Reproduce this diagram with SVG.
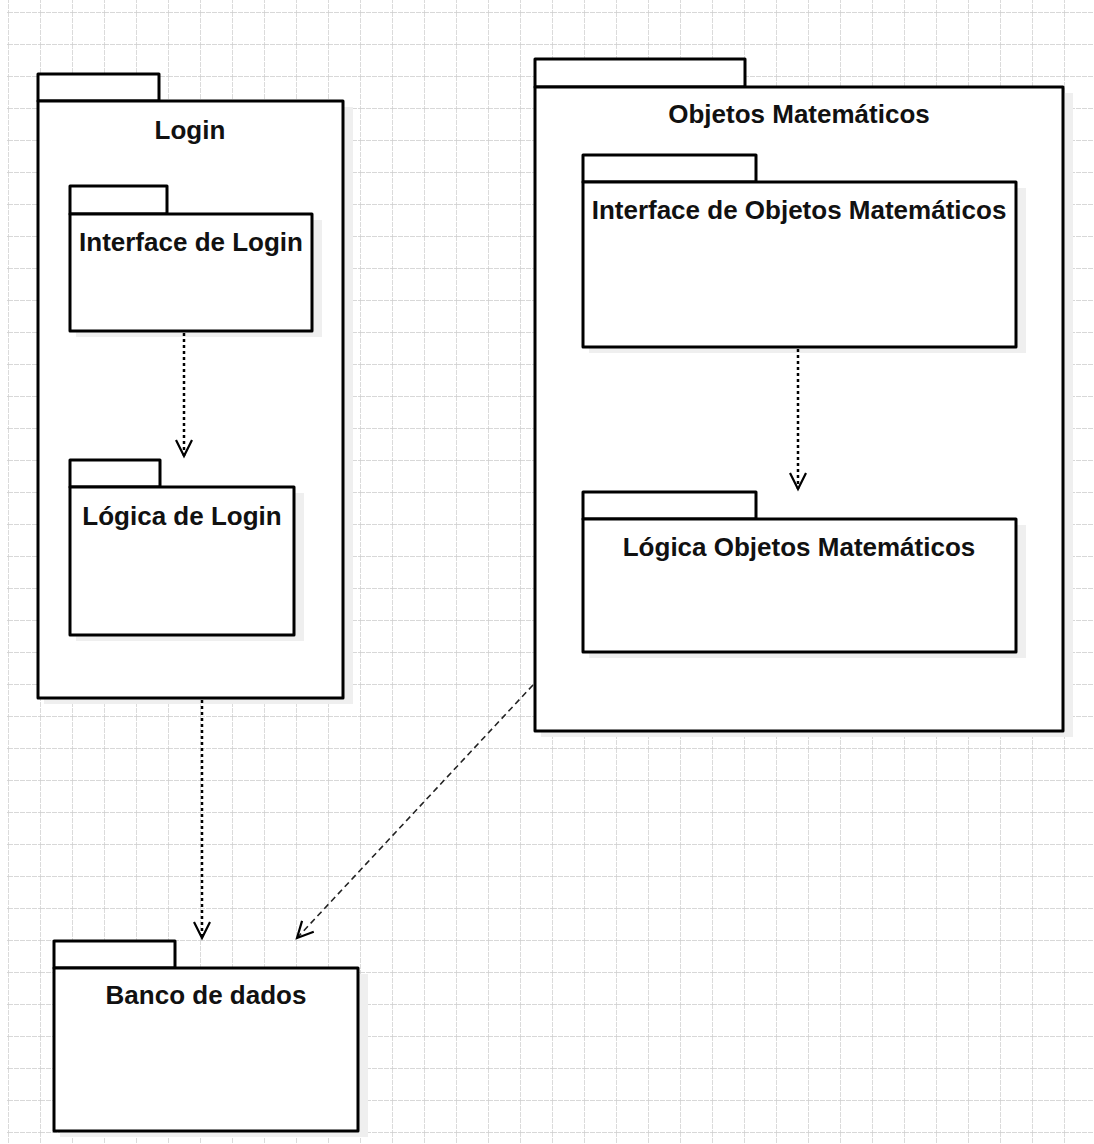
<svg xmlns="http://www.w3.org/2000/svg" width="1094" height="1144" viewBox="0 0 1094 1144">
<defs>
<style>
.tab,.body{fill:#ffffff;stroke:#000000;stroke-width:3;stroke-linejoin:round}
.shadow{fill:#efefef}
.lbl{font-family:"Liberation Sans",Arial,sans-serif;font-weight:bold;font-size:26px;fill:#111111;text-anchor:middle}
.dep{fill:none;stroke:#000000;stroke-width:2.5;stroke-dasharray:3 3}
.dep2{fill:none;stroke:#222222;stroke-width:1.6;stroke-dasharray:6 4}
</style>
<pattern id="grid" patternUnits="userSpaceOnUse" x="8" y="12" width="32" height="32">
<path d="M0,0 H32 M0,0 V32" fill="none" stroke="#cccccc" stroke-width="1.4" stroke-dasharray="5 1"/>
</pattern>
<marker id="open" markerUnits="userSpaceOnUse" viewBox="0 0 20 20" refX="17" refY="10" markerWidth="20" markerHeight="20" orient="auto">
<path d="M1,2 L17,10 L1,18" fill="none" stroke="#000000" stroke-width="2.2" stroke-dasharray="none"/>
</marker>
</defs>
<rect x="0" y="0" width="1094" height="1144" fill="#ffffff"/>
<rect x="7" y="0" width="1087" height="1144" fill="url(#grid)"/>

<g id="pkg-login">
<rect class="shadow" x="44" y="107" width="309" height="597"/>
<rect class="tab" x="38" y="74" width="121" height="27"/>
<rect class="body" x="38" y="101" width="305" height="597"/>
<text class="lbl" x="190" y="139">Login</text>
</g>

<g id="pkg-interface-login">
<rect class="shadow" x="76" y="220" width="246" height="117"/>
<rect class="tab" x="70" y="186" width="97" height="28"/>
<rect class="body" x="70" y="214" width="242" height="117"/>
<text class="lbl" x="191" y="251">Interface de Login</text>
</g>

<g id="pkg-logica-login">
<rect class="shadow" x="76" y="493" width="228" height="148"/>
<rect class="tab" x="70" y="460" width="90" height="27"/>
<rect class="body" x="70" y="487" width="224" height="148"/>
<text class="lbl" x="182" y="525">Lógica de Login</text>
</g>

<g id="pkg-objetos">
<rect class="shadow" x="541" y="93" width="532" height="644"/>
<rect class="tab" x="535" y="59" width="210" height="28"/>
<rect class="body" x="535" y="87" width="528" height="644"/>
<text class="lbl" x="799" y="123">Objetos Matemáticos</text>
</g>

<g id="pkg-interface-objetos">
<rect class="shadow" x="589" y="188" width="437" height="165"/>
<rect class="tab" x="583" y="155" width="173" height="27"/>
<rect class="body" x="583" y="182" width="433" height="165"/>
<text class="lbl" x="799" y="219">Interface de Objetos Matemáticos</text>
</g>

<g id="pkg-logica-objetos">
<rect class="shadow" x="589" y="525" width="437" height="133"/>
<rect class="tab" x="583" y="492" width="173" height="27"/>
<rect class="body" x="583" y="519" width="433" height="133"/>
<text class="lbl" x="799" y="556">Lógica Objetos Matemáticos</text>
</g>

<g id="pkg-banco">
<rect class="shadow" x="60" y="974" width="308" height="163"/>
<rect class="tab" x="54" y="941" width="121" height="27"/>
<rect class="body" x="54" y="968" width="304" height="163"/>
<text class="lbl" x="206" y="1004">Banco de dados</text>
</g>

<g id="connectors">
<path class="dep" d="M184,333 V456" marker-end="url(#open)"/>
<path class="dep" d="M798,349 V489" marker-end="url(#open)"/>
<path class="dep" d="M202,700 V938" marker-end="url(#open)"/>
<path class="dep2" d="M533,685 L297,938" marker-end="url(#open)"/>
</g>
</svg>
